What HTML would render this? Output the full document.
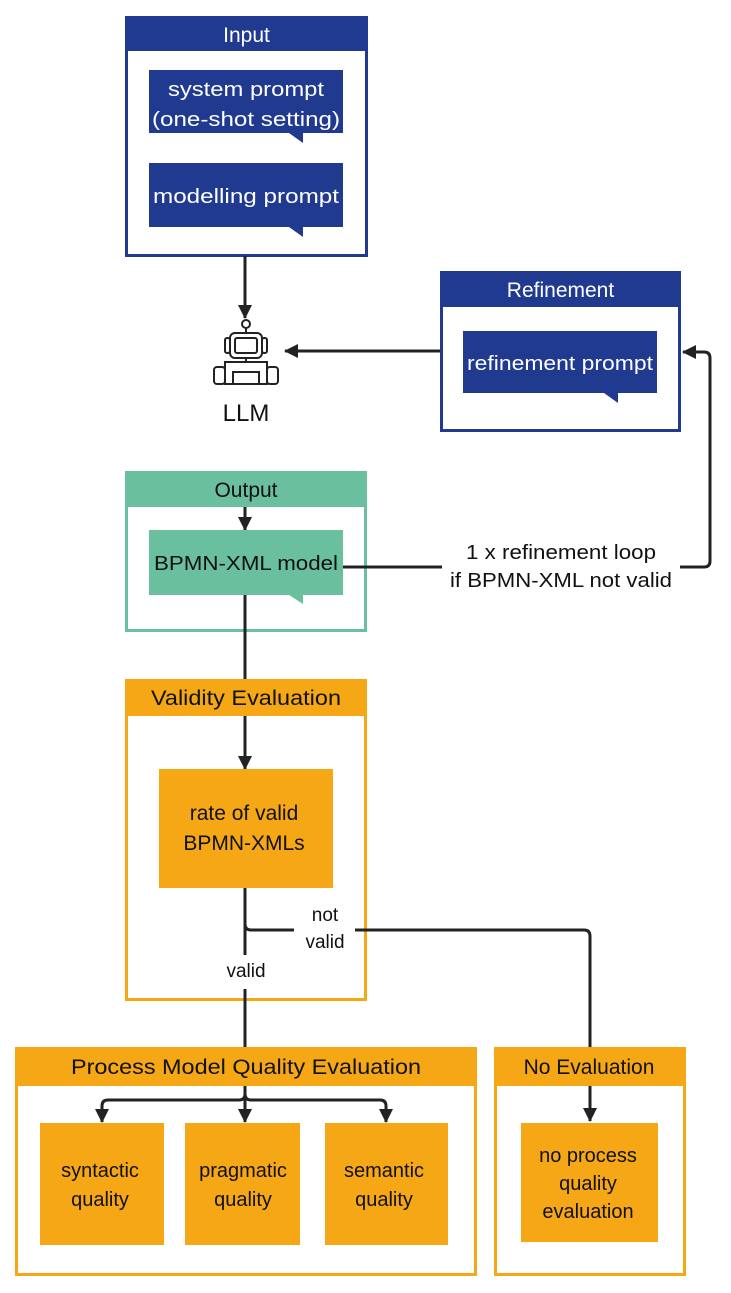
<!DOCTYPE html>
<html><head><style>
html,body{margin:0;padding:0;background:#fff;}
svg{display:block;font-family:"Liberation Sans",sans-serif;}
</style></head><body>
<svg width="731" height="1293" viewBox="0 0 731 1293" xmlns="http://www.w3.org/2000/svg">
<defs>
<marker id="ah2" markerWidth="14" markerHeight="14" refX="13" refY="7" orient="auto" markerUnits="userSpaceOnUse" viewBox="0 0 14 14">
<path d="M0,0 L14,7 L0,14 z" fill="#222"/></marker>
</defs>
<!-- Input -->
<rect x="126.5" y="17.5" width="240" height="238" fill="#fff" stroke="#1f3a8f" stroke-width="3"/>
<rect x="125" y="16" width="243" height="35" fill="#1f3a8f"/>
<text x="246.5" y="42" font-size="21" fill="#fff" text-anchor="middle">Input</text>
<rect x="149" y="70" width="194" height="63" fill="#1f3a8f"/>
<path d="M289,133 L303,143 L303,133z" fill="#1f3a8f"/>
<text x="246" y="96" font-size="20" fill="#fff" text-anchor="middle" textLength="156" lengthAdjust="spacingAndGlyphs">system prompt</text>
<text x="246" y="126" font-size="20" fill="#fff" text-anchor="middle" textLength="188" lengthAdjust="spacingAndGlyphs">(one-shot setting)</text>
<rect x="149" y="163" width="194" height="64" fill="#1f3a8f"/>
<path d="M289,227 L303,237 L303,227z" fill="#1f3a8f"/>
<text x="246" y="203" font-size="20" fill="#fff" text-anchor="middle" textLength="186" lengthAdjust="spacingAndGlyphs">modelling prompt</text>
<line x1="245" y1="256" x2="245" y2="318" stroke="#222" stroke-width="3" marker-end="url(#ah2)"/>
<!-- Robot -->
<g stroke="#222" stroke-width="2" fill="#fff">
<circle cx="246" cy="324" r="4"/>
<line x1="246" y1="328" x2="246" y2="333"/>
<rect x="230" y="333" width="32" height="25" rx="5"/>
<rect x="235" y="338" width="22" height="15" rx="2"/>
<rect x="225" y="338" width="5" height="15" rx="2"/>
<rect x="262" y="338" width="5" height="15" rx="2"/>
<line x1="246" y1="358" x2="246" y2="362"/>
<rect x="225" y="362" width="42" height="22"/>
<rect x="233" y="372" width="26" height="12"/>
<rect x="214" y="367" width="11" height="17" rx="3"/>
<rect x="267" y="367" width="11" height="17" rx="3"/>
</g>
<text x="246" y="421" font-size="24" fill="#111" text-anchor="middle">LLM</text>
<!-- Refinement -->
<rect x="441.5" y="272.5" width="238" height="158" fill="#fff" stroke="#1f3a8f" stroke-width="3"/>
<rect x="440" y="271" width="241" height="36" fill="#1f3a8f"/>
<text x="560.5" y="297" font-size="21" fill="#fff" text-anchor="middle">Refinement</text>
<rect x="463" y="331" width="194" height="62" fill="#1f3a8f"/>
<path d="M604,393 L618,403 L618,393z" fill="#1f3a8f"/>
<text x="560" y="370" font-size="20" fill="#fff" text-anchor="middle" textLength="186" lengthAdjust="spacingAndGlyphs">refinement prompt</text>
<line x1="440" y1="351" x2="285" y2="351" stroke="#222" stroke-width="3" marker-end="url(#ah2)"/>
<!-- Output -->
<rect x="126.5" y="472.5" width="239" height="158" fill="#fff" stroke="#6abf9f" stroke-width="3"/>
<rect x="125" y="471" width="242" height="36" fill="#6abf9f"/>
<text x="246" y="497" font-size="21" fill="#111" text-anchor="middle">Output</text>
<line x1="245" y1="507" x2="245" y2="530" stroke="#222" stroke-width="3" marker-end="url(#ah2)"/>
<rect x="149" y="530" width="194" height="65" fill="#6abf9f"/>
<path d="M289,595 L303,604 L303,595z" fill="#6abf9f"/>
<text x="246" y="570" font-size="20" fill="#111" text-anchor="middle" textLength="184" lengthAdjust="spacingAndGlyphs">BPMN-XML model</text>
<!-- loop -->
<path d="M343,567 L442,567" stroke="#222" stroke-width="3" fill="none"/>
<path d="M680,567 L704,567 Q710,567 710,561 L710,358 Q710,352 704,352 L683,352" stroke="#222" stroke-width="3" fill="none" marker-end="url(#ah2)"/>
<text x="561" y="559" font-size="20" fill="#111" text-anchor="middle" textLength="190" lengthAdjust="spacingAndGlyphs">1 x refinement loop</text>
<text x="561" y="587" font-size="20" fill="#111" text-anchor="middle" textLength="222" lengthAdjust="spacingAndGlyphs">if BPMN-XML not valid</text>
<line x1="245" y1="595" x2="245" y2="680" stroke="#222" stroke-width="3"/>
<!-- Validity -->
<rect x="126.5" y="680.5" width="239" height="319" fill="#fff" stroke="#f5a716" stroke-width="3"/>
<rect x="125" y="679" width="242" height="37" fill="#f5a716"/>
<text x="246" y="705" font-size="21" fill="#111" text-anchor="middle" textLength="190" lengthAdjust="spacingAndGlyphs">Validity Evaluation</text>
<line x1="245" y1="716" x2="245" y2="769" stroke="#222" stroke-width="3" marker-end="url(#ah2)"/>
<rect x="159" y="769" width="174" height="119" fill="#f5a716"/>
<text x="244" y="820" font-size="21" fill="#111" text-anchor="middle">rate of valid</text>
<text x="244" y="850" font-size="21" fill="#111" text-anchor="middle">BPMN-XMLs</text>
<path d="M245,888 L245,955 M245,989 L245,1047" stroke="#222" stroke-width="3" fill="none"/>
<text x="246" y="977" font-size="19" fill="#111" text-anchor="middle">valid</text>
<path d="M245,924 Q245,930 251,930 L294,930" stroke="#222" stroke-width="3" fill="none"/>
<text x="325" y="921" font-size="19" fill="#111" text-anchor="middle">not</text>
<text x="325" y="948" font-size="19" fill="#111" text-anchor="middle">valid</text>
<path d="M355,930 L584,930 Q590,930 590,936 L590,1047" stroke="#222" stroke-width="3" fill="none"/>
<!-- PMQE -->
<rect x="16.5" y="1048.5" width="459" height="226" fill="#fff" stroke="#f5a716" stroke-width="3"/>
<rect x="15" y="1047" width="462" height="39" fill="#f5a716"/>
<text x="246" y="1074" font-size="21" fill="#111" text-anchor="middle" textLength="350" lengthAdjust="spacingAndGlyphs">Process Model Quality Evaluation</text>
<line x1="245" y1="1086" x2="245" y2="1122" stroke="#222" stroke-width="3" marker-end="url(#ah2)"/>
<path d="M245,1094 Q245,1100 239,1100 L108,1100 Q102,1100 102,1106 L102,1122" stroke="#222" stroke-width="3" fill="none" marker-end="url(#ah2)"/>
<path d="M245,1094 Q245,1100 251,1100 L380,1100 Q386,1100 386,1106 L386,1122" stroke="#222" stroke-width="3" fill="none" marker-end="url(#ah2)"/>
<rect x="40" y="1123" width="124" height="122" fill="#f5a716"/>
<rect x="185" y="1123" width="115" height="122" fill="#f5a716"/>
<rect x="325" y="1123" width="123" height="122" fill="#f5a716"/>
<text x="100" y="1177" font-size="20" fill="#111" text-anchor="middle">syntactic</text>
<text x="100" y="1206" font-size="20" fill="#111" text-anchor="middle">quality</text>
<text x="243" y="1177" font-size="20" fill="#111" text-anchor="middle">pragmatic</text>
<text x="243" y="1206" font-size="20" fill="#111" text-anchor="middle">quality</text>
<text x="384" y="1177" font-size="20" fill="#111" text-anchor="middle">semantic</text>
<text x="384" y="1206" font-size="20" fill="#111" text-anchor="middle">quality</text>
<!-- No Evaluation -->
<rect x="495.5" y="1048.5" width="189" height="226" fill="#fff" stroke="#f5a716" stroke-width="3"/>
<rect x="494" y="1047" width="192" height="39" fill="#f5a716"/>
<text x="589" y="1074" font-size="21" fill="#111" text-anchor="middle">No Evaluation</text>
<line x1="590" y1="1086" x2="590" y2="1121" stroke="#222" stroke-width="3" marker-end="url(#ah2)"/>
<rect x="521" y="1123" width="137" height="119" fill="#f5a716"/>
<text x="588" y="1162" font-size="20" fill="#111" text-anchor="middle">no process</text>
<text x="588" y="1190" font-size="20" fill="#111" text-anchor="middle">quality</text>
<text x="588" y="1218" font-size="20" fill="#111" text-anchor="middle">evaluation</text>
</svg>
</body></html>
